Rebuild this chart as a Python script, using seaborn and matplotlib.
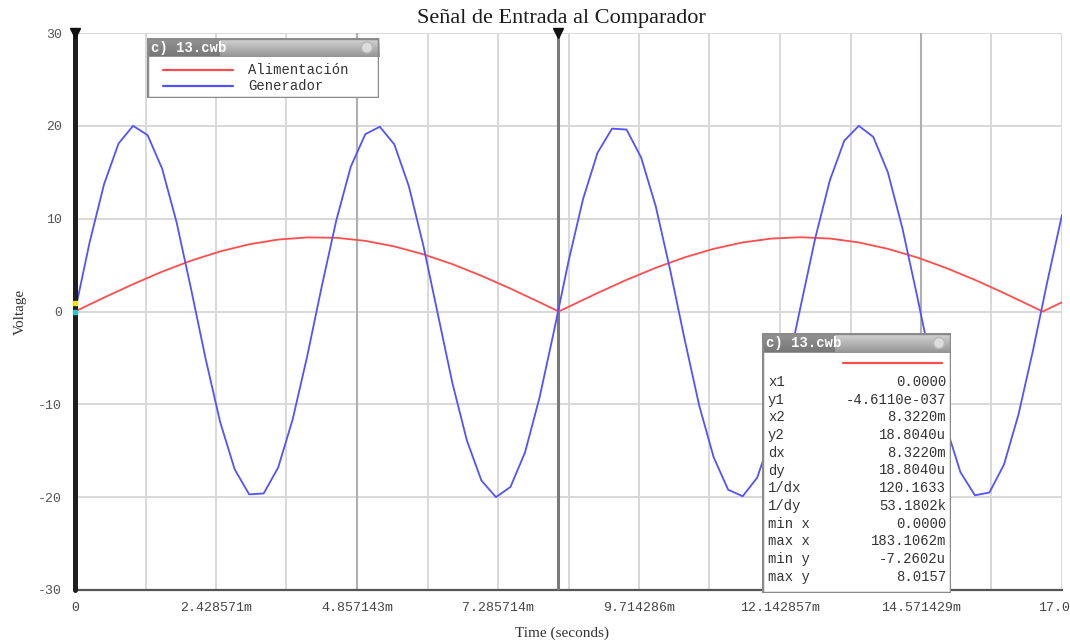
import numpy as np
import pandas as pd
import matplotlib
matplotlib.use("Agg")
import matplotlib.pyplot as plt
import seaborn as sns
from matplotlib.patches import Rectangle, Circle

# ---------------------------------------------------------------- data (time in ms, volts)
t_gen = [0.00, 0.25, 0.50, 0.75, 1.00, 1.25, 1.50, 1.75, 2.00, 2.25,
         2.50, 2.75, 3.00, 3.25, 3.50, 3.75, 4.00, 4.25, 4.50, 4.75,
         5.00, 5.25, 5.50, 5.75, 6.00, 6.25, 6.50, 6.75, 7.00, 7.25,
         7.50, 7.75, 8.00, 8.25, 8.50, 8.75, 9.00, 9.25, 9.50, 9.75,
         10.00, 10.25, 10.50, 10.75, 11.00, 11.25, 11.50, 11.75, 12.00, 12.25,
         12.50, 12.75, 13.00, 13.25, 13.50, 13.75, 14.00, 14.25, 14.50, 14.75,
         15.00, 15.25, 15.50, 15.75, 16.00, 16.25, 16.50, 16.75, 17.00]
v_gen = [0.0, 7.4, 13.7, 18.1, 20.0, 19.0, 15.4, 9.6, 2.4, -5.1,
         -11.9, -17.0, -19.7, -19.6, -16.8, -11.6, -4.8, 2.7, 9.8, 15.6,
         19.1, 19.9, 18.0, 13.5, 7.1, -0.3, -7.7, -13.9, -18.2, -20.0,
         -18.9, -15.2, -9.3, -2.1, 5.4, 12.1, 17.1, 19.7, 19.6, 16.6,
         11.4, 4.5, -3.0, -10.1, -15.7, -19.2, -19.9, -17.9, -13.3, -6.8,
         0.6, 7.9, 14.1, 18.4, 20.0, 18.8, 15.0, 9.0, 1.8, -5.7,
         -12.3, -17.3, -19.8, -19.5, -16.5, -11.1, -4.2, 3.3, 10.4]

t_ali = [0.0, 0.5, 1.0, 1.5, 2.0, 2.5, 3.0, 3.5, 4.0, 4.5, 5.0, 5.5, 6.0, 6.5,
         7.0, 7.5, 8.0, 8.33, 8.5, 9.0, 9.5, 10.0, 10.5, 11.0, 11.5, 12.0,
         12.5, 13.0, 13.5, 14.0, 14.5, 15.0, 15.5, 16.0, 16.5, 16.67, 17.0]
v_ali = [0.0, 1.50, 2.94, 4.29, 5.48, 6.47, 7.24, 7.75, 7.98, 7.94, 7.61, 7.01,
         6.16, 5.10, 3.85, 2.47, 1.00, 0.0, 0.50, 1.99, 3.41, 4.70, 5.83, 6.75,
         7.44, 7.86, 8.00, 7.86, 7.44, 6.75, 5.83, 4.70, 3.41, 1.99, 0.50, 0.0, 1.00]

series_names = ["Alimentación", "Generador"]
series_colors = ["#ff4d4d", "#5252ff"]

x_ticks = [0.0, 2.428571, 4.857143, 7.285714, 9.714286, 12.142857, 14.571429, 17.0]
x_tick_labels = ["0", "2.428571m", "4.857143m", "7.285714m", "9.714286m",
                 "12.142857m", "14.571429m", "17.000"]
x_grid = [1.214286, 3.642857, 6.071429, 8.5, 10.928571, 13.357143, 15.785714]
y_ticks = [-30, -20, -10, 0, 10, 20, 30]
y_tick_labels = ["-30", "-20", "-10", "0", "10", "20", "30"]

cursor_1 = 0.0
cursor_2 = 8.322

file_label = "c) 13.cwb"
readout_names = ["x1", "y1", "x2", "y2", "dx", "dy", "1/dx", "1/dy",
                 "min x", "max x", "min y", "max y"]
readout_values = ["0.0000", "-4.6110e-037", "8.3220m", "18.8040u", "8.3220m",
                  "18.8040u", "120.1633", "53.1802k", "0.0000", "183.1062m",
                  "-7.2602u", "8.0157"]

# ---------------------------------------------------------------- figure
sns.set_theme(style="white")
plt.rcParams["font.family"] = ["DejaVu Sans"]
MONO = "Liberation Mono"
SERIF = "Liberation Serif"

W, H = 1070, 640
fig = plt.figure(figsize=(W / 100, H / 100), dpi=100)
fig.patch.set_facecolor("white")
ax = fig.add_axes([75 / W, 1 - 590 / H, (1062 - 75) / W, (590 - 33) / H])

df = pd.concat([
    pd.DataFrame({"t": t_ali, "v": v_ali, "serie": series_names[0]}),
    pd.DataFrame({"t": t_gen, "v": v_gen, "serie": series_names[1]}),
], ignore_index=True)

sns.lineplot(data=df, x="t", y="v", hue="serie",
             palette=dict(zip(series_names, series_colors)),
             estimator=None, sort=False, legend=False, linewidth=1.3, ax=ax, zorder=4)

ax.set_xlim(0, 17)
ax.set_ylim(-30, 30)
ax.set_xticks(x_ticks)
ax.set_xticklabels(x_tick_labels, fontfamily=MONO, fontsize=9.5, color="#444444")
ax.set_xticks(x_grid, minor=True)
ax.set_yticks(y_ticks)
ax.set_yticklabels(y_tick_labels, fontfamily=MONO, fontsize=9.5, color="#555555")
ax.tick_params(axis="x", which="major", direction="inout", length=7, width=1.2,
               color="#222222", pad=5)
ax.tick_params(axis="y", which="major", direction="inout", length=7, width=1.2,
               color="#555555", pad=6)
ax.tick_params(which="minor", length=0)
ax.grid(True, which="both", color="#d8d8d8", linewidth=1.4)
ax.set_axisbelow(True)
ax.set_xlabel("")
ax.set_ylabel("")

for side in ["top", "right"]:
    ax.spines[side].set_visible(False)
ax.spines["bottom"].set_color("#555555")
ax.spines["bottom"].set_linewidth(1.6)
ax.spines["left"].set_visible(False)

# slightly darker reference lines
for xv in [4.857143, 14.571429]:
    ax.axvline(xv, color="#b0b0b0", linewidth=1.5, zorder=1)

# measurement cursors
ax.axvline(cursor_1, color="#1e1e1e", linewidth=3.6, zorder=6, clip_on=False)
ax.axvline(cursor_2, color="#7a7a7a", linewidth=2.2, zorder=3)
ax.plot([cursor_1, cursor_2], [30, 30], linestyle="none", marker="v", color="#111111",
        markersize=7, clip_on=False, zorder=7)
ax.plot([cursor_1], [0.9], linestyle="none", marker="s", color="#f5e000",
        markersize=3, clip_on=False, zorder=8)
ax.plot([cursor_1], [0.0], linestyle="none", marker="s", color="#20c8d0",
        markersize=3, clip_on=False, zorder=8)

# titles
fig.text(561 / W, 1 - 18 / H, "Señal de Entrada al Comparador", ha="center", va="center",
         fontfamily=SERIF, fontsize=16, color="#1a1a1a")
fig.text(20 / W, 1 - 312 / H, "Voltage", ha="center", va="center", rotation=90,
         fontfamily=SERIF, fontsize=11, color="#333333")
fig.text(562 / W, 1 - 627 / H, "Time (seconds)", ha="center", va="top",
         fontfamily=SERIF, fontsize=11, color="#333333")


# ---------------------------------------------------------------- floating panels
def panel(x0, y0, x1, y1, bar_h):
    w, h = x1 - x0, y1 - y0
    p = fig.add_axes([x0 / W, 1 - y1 / H, w / W, h / H])
    p.set_xlim(0, w)
    p.set_ylim(h, 0)
    p.axis("off")
    p.add_patch(Rectangle((0, 0), w, h, facecolor="white", edgecolor="none", zorder=0))
    grad = np.linspace(0.84, 0.58, 32)[:, None]
    p.imshow(grad, extent=(0, w, bar_h, 0), cmap="gray", vmin=0, vmax=1,
             aspect="auto", zorder=1)
    p.add_patch(Rectangle((1, 1), 72, bar_h - 2, facecolor="#5e5e5e", alpha=0.55,
                          edgecolor="none", zorder=2))
    p.text(4, bar_h / 2 + 0.5, file_label, ha="left", va="center", fontfamily=MONO,
           fontsize=10, color="white", fontweight="bold", zorder=3)
    p.add_patch(Circle((w - 12, bar_h / 2), 5.5, facecolor="#dcdcdc",
                       edgecolor="#b8b8b8", linewidth=1, zorder=3))
    p.add_patch(Rectangle((0, 0), w, h, fill=False, edgecolor="#8a8a8a",
                          linewidth=2.5, zorder=5))
    p.set_xlim(0, w)
    p.set_ylim(h, 0)
    return p


leg = panel(147, 38, 379, 98, 19)
for i, (name, col) in enumerate(zip(series_names, series_colors)):
    yy = 32 + 16 * i
    leg.plot([16, 86], [yy, yy], color=col, linewidth=1.6, zorder=4)
    leg.text(101, yy, name, ha="left", va="center", fontfamily=MONO,
             fontsize=10, color="#333333", zorder=4)

cur = panel(762, 333, 951, 593, 20)
cur.plot([81, 180], [30, 30], color=series_colors[0], linewidth=1.6, zorder=4)
for i, (name, val) in enumerate(zip(readout_names, readout_values)):
    yy = 49 + 17.7 * i
    cur.text(6, yy, name, ha="left", va="center", fontfamily=MONO,
             fontsize=10, color="#333333", zorder=4)
    cur.text(184, yy, val, ha="right", va="center", fontfamily=MONO,
             fontsize=10, color="#333333", zorder=4)

fig.savefig("out.png", dpi=100)
